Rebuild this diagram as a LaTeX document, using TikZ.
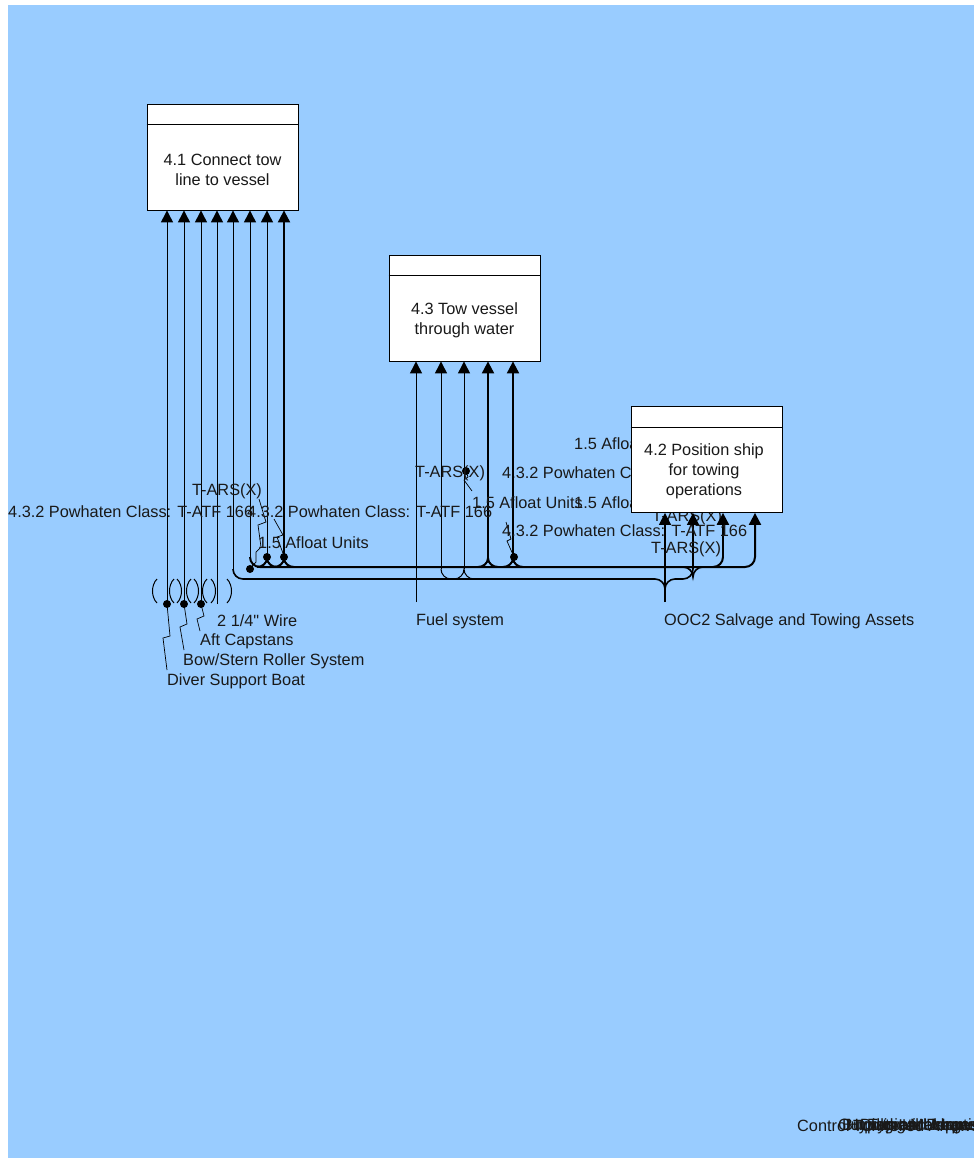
\documentclass[tikz,border=0pt]{standalone}
\usepackage{fontspec}
\setmainfont{Liberation Sans}
\usetikzlibrary{arrows.meta}
\definecolor{bg}{RGB}{153,204,255}
\begin{document}
\begin{tikzpicture}[x=1pt,y=-1pt,
  every node/.style={font=\fontsize{16.3}{20}\selectfont, inner sep=0pt, text=black!90},
  lbl/.style={anchor=west},
  boxst/.style={draw, fill=white, line width=0.8pt, minimum width=151pt, minimum height=106pt},
  ln/.style={line width=1pt},
  lnk/.style={line width=2pt},
  lnm/.style={line width=1.6pt},
  arr/.style={-{Triangle[width=12pt,length=12pt]}},
  ldr/.style={line width=0.7pt},
  dotst/.style={fill=black}]
\useasboundingbox (0,0) rectangle (974,1160);
\fill[bg] (8,5) rectangle (974,1158);

% labels that lie behind box 4.2
\node[lbl] (l42a) at (502,473) {4.3.2 Powhaten Class: T-ATF 166};
\node[lbl] (l15b) at (574,503) {1.5 Afloat Units};
\node[lbl] (l15c) at (574,444) {1.5 Afloat Units};
\node[lbl] (ltx) at (652,517) {T-ARS(X)};

% boxes
\node[boxst] (b41) at (222.5,157) {};
\draw[line width=0.8pt] ([yshift=-21pt]b41.north west) -- ([yshift=-21pt]b41.north east);
\node[align=center] (t41) at (222.5,170) {4.1 Connect tow\\line to vessel};
\node[boxst] (b43) at (464.5,308) {};
\draw[line width=0.8pt] ([yshift=-21pt]b43.north west) -- ([yshift=-21pt]b43.north east);
\node[align=center] (t43) at (464.5,320) {4.3 Tow vessel\\through water};
\node[boxst] (b42) at (706.5,459.5) {};
\draw[line width=0.8pt] ([yshift=-21pt]b42.north west) -- ([yshift=-21pt]b42.north east);
\node[align=center] (t42) at (704,471) {4.2 Position ship\\for towing\\operations};

% mechanisms into box 4.1 (tunnelled)
\foreach \x/\n in {167/a,184/b,201/c,217/d} {
  \coordinate (e\n) at (\x,604);
  \draw[ln,arr] (e\n) -- (e\n |- b41.south);
  \draw[ln] (\x-10,579) .. controls (\x-16,585) and (\x-16,597) .. (\x-10,603);
  \draw[ln] (\x+10,579) .. controls (\x+16,585) and (\x+16,597) .. (\x+10,603);
}
\foreach \n in {a,b,c} { \fill (e\n) circle (4pt); }

% bus A
\coordinate (bA1) at (250,567);
\coordinate (bA2) at (755,567);
\coordinate (bA0) at (250,557);
\draw[ln,arr] (bA0) -- (bA0 |- b41.south);
\draw[lnk,-{Triangle[width=12pt,length=12pt]},rounded corners=10pt]
  (bA0) -- (bA1) -- (bA2) -- (bA2 |- b42.south);
\foreach \x/\bx/\w in {267/b41/ln,284/b41/lnk,488/b43/lnk,513/b43/lnk} {
  \coordinate (f\x) at (\x,558);
  \draw[lnk] (\x-10,567) to[out=0,in=-90] (f\x) to[out=-90,in=180] (\x+10,567);
  \draw[\w,arr] (f\x) -- (f\x |- \bx.south);
}
\coordinate (f723) at (723,557);
\draw[lnk] (713,567) to[out=0,in=-90] (f723);
\draw[lnk,arr] (f723) -- (f723 |- b42.south);

% bus B from OOC2
\coordinate (oo) at (665,602);
\draw[lnm,arr] (oo) -- (oo |- b42.south);
\coordinate (bB1) at (233,579);
\coordinate (bB2) at (693,579);
\coordinate (bB0) at (233,569);
\draw[ln,arr] (bB0) -- (bB0 |- b41.south);
\draw[lnm,rounded corners=10pt] (665,594) -- (665,579) -- (bB1) -- (bB0);
\draw[lnm,arr,rounded corners=10pt] (665,594) -- (665,579) -- (bB2) -- (bB2 |- b42.south);
\draw[lnm] (683,567) to[out=0,in=90] (693,577) to[out=90,in=180] (703,567);
\coordinate (g441) at (441,569);
\draw[ln] (451,579) to[out=180,in=-90] (g441);
\draw[ln,arr] (g441) -- (g441 |- b43.south);
\coordinate (g464) at (464,569);
\draw[ln] (454,579) to[out=0,in=-90] (g464) to[out=-90,in=180] (474,579);
\draw[ln,arr] (g464) -- (g464 |- b43.south);

% fuel
\coordinate (fu) at (416,602);
\draw[ln,arr] (fu) -- (fu |- b43.south);

% dots and leaders
\fill (250,569) circle (4pt);
\fill (267,557) circle (4pt);
\fill (284,557) circle (4pt);
\fill (466,471) circle (4pt);
\fill (514,557) circle (4pt);
\draw[ldr] (ea) -- (170,636) -- (163,638) -- (167,670);
\draw[ldr] (eb) -- (187,624) -- (180,627) -- (184,650);
\draw[ldr] (ec) -- (204,616) -- (197,619) -- (200,631);
\draw[ldr] (259,499) -- (266,522) -- (258,525) -- (261,547) -- (256,552) -- (256,562) -- (250,568);
\draw[ldr] (274,519) -- (283,535) -- (277,537) -- (284,556);
\draw[ldr] (466,471) -- (468,477) -- (464,480) -- (472,491);
\draw[ldr] (514,557) -- (507,541) -- (511,539) -- (506,522);

% labels
\node[anchor=center] (lt1) at (227,491) {T-ARS(X)};
\node[lbl] (lp1) at (8,512) {4.3.2 Powhaten Class: T-ATF 166};
\node[lbl] (lp2) at (247,512) {4.3.2 Powhaten Class: T-ATF 166};
\node[lbl] (la1) at (258,543) {1.5 Afloat Units};
\node[lbl] (lt2) at (415,473) {T-ARS(X)};
\node[lbl] (la2) at (472,503) {1.5 Afloat Units};
\node[lbl] (lp3) at (502,531) {4.3.2 Powhaten Class: T-ATF 166};
\node[lbl] (lt3) at (651,549) {T-ARS(X)};
\node[lbl] (lw) at (217,621) {2 1/4\textquotedbl{} Wire};
\node[lbl] (lc) at (200,641) {Aft Capstans};
\node[lbl] (lr) at (183,661) {Bow/Stern Roller System};
\node[lbl] (ld) at (167,681) {Diver Support Boat};
\node[lbl] (lf) at (416,621) {Fuel system};
\node[lbl] (lo) at (664,621) {OOC2 Salvage and Towing Assets};

% legend text (overlapping, clipped at the right edge)
\begin{scope}
\clip (0,0) rectangle (974,1160);
\node[lbl] (k0) at (797,1126) {Control};
\node[lbl] (k1) at (838,1126) {Outputs and Inputs};
\node[lbl] (k2) at (842,1126) {Bundling Mechanisms};
\node[lbl] (k3) at (847,1126) {Hypothetical Input};
\node[lbl] (k4) at (853,1126) {Tunnelled Arrows};
\node[lbl] (k5) at (860,1126) {Diagram Purpose};
\node[lbl] (k6) at (868,1126) {Typical Usage};
\end{scope}
\end{tikzpicture}
\end{document}
